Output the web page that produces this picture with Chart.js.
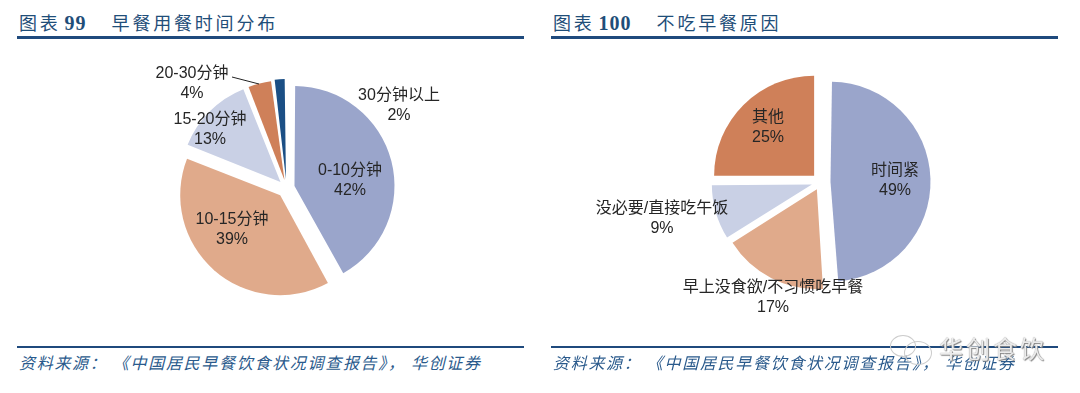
<!DOCTYPE html>
<html>
    <head>
        <meta charset="utf-8">
        <title>早餐用餐时间分布 / 不吃早餐原因</title>
        <script src="https://cdn.jsdelivr.net/npm/chart.js@4/dist/chart.umd.min.js"></script>
        <style>
            html, body { margin: 0; padding: 0; background: #fff; width: 1080px; height: 393px; overflow: hidden; }
            canvas { position: absolute; }
            .title { position: absolute; top: 9px; color: #1f4e79; font: 18px "Noto Sans CJK SC"; letter-spacing: 2.8px; white-space: pre; line-height: 26px; }
            .title b { font: bold 20px "Liberation Serif"; letter-spacing: 1px; margin: 0 25px 0 4px; }
            .rule { position: absolute; background: #1f4a7d; }
            .source { position: absolute; top: 351px; color: #2a5a8c; font: italic 16px "Noto Sans CJK SC"; letter-spacing: 1.7px; white-space: pre; line-height: 22px; }
            .mark { position: absolute; left: 939px; top: 333px; color: rgba(255,255,255,.85); font: 24px "Noto Sans CJK SC"; letter-spacing: 3px; line-height: 30px; text-shadow: 0 0 1px #777, 1px 1px 1px #888; }
            .bubble { position: absolute; border: 1px solid #ccc; border-radius: 50%; }
        </style>
    </head>
    <body>
        <div class="title" style="left:19px">图表<b>99</b>早餐用餐时间分布</div>
        <div class="rule" style="left:17px;top:36px;width:507px;height:3px"></div>
        <canvas id="timeChart" width="541" height="296" style="left:16px;top:40px"></canvas>
        <div class="rule" style="left:17px;top:346px;width:507px;height:2px"></div>
        <div class="source" style="left:19px">资料来源： 《中国居民早餐饮食状况调查报告》， 华创证券</div>

        <div class="title" style="left:553px">图表<b>100</b>不吃早餐原因</div>
        <div class="rule" style="left:551px;top:36px;width:507px;height:3px"></div>
        <canvas id="reasonChart" width="519" height="284" style="left:561px;top:40px"></canvas>
        <div class="rule" style="left:551px;top:346px;width:507px;height:2px"></div>
        <div class="source" style="left:553px">资料来源： 《中国居民早餐饮食状况调查报告》， 华创证券</div>

        <div class="bubble" style="left:890px;top:335px;width:24px;height:20px"></div>
        <div class="bubble" style="left:904px;top:341px;width:26px;height:22px"></div>
        <div class="mark">华创食饮</div>

        <script>
            const timeLabels = ['0-10分钟', '10-15分钟', '15-20分钟', '20-30分钟', '30分钟以上'];
            const timeValues = [42, 39, 13, 4, 2];
            const timeColors = ['#9aa5cb', '#e0aa8b', '#c9d0e5', '#cf8059', '#1b4f85'];

            const reasonLabels = ['时间紧', '早上没食欲/不习惯吃早餐', '没必要/直接吃午饭', '其他'];
            const reasonValues = [49, 17, 9, 25];
            const reasonColors = ['#9aa5cb', '#e0aa8b', '#c9d0e5', '#cf8059'];

            const pieRadius = 100;

            // Chart.js grows an offset slice by offset/4 * (1 - sin(angle)), take that back off
            // so all the slices come out the same size
            const evenRadius = {
                id: 'evenRadius',
                afterDatasetsUpdate(chart) {
                    chart.getDatasetMeta(0).data.forEach(arc => {
                        const fix = 1 - Math.sin(Math.min(Math.PI, arc.circumference));
                        arc.outerRadius = pieRadius - arc.options.offset / 4 * fix;
                    });
                }
            };

            // draws the two line labels, placed relative to the pie centre
            const pieLabels = {
                id: 'pieLabels',
                afterDatasetsDraw(chart, args, opts) {
                    const ctx = chart.ctx;
                    const arc = chart.getDatasetMeta(0).data[0];
                    const data = chart.data.datasets[0].data;
                    ctx.save();
                    if (opts.leader) {
                        ctx.strokeStyle = '#222';
                        ctx.lineWidth = 1;
                        ctx.beginPath();
                        ctx.moveTo(arc.x + opts.leader[0], arc.y + opts.leader[1]);
                        ctx.lineTo(arc.x + opts.leader[2], arc.y + opts.leader[3]);
                        ctx.stroke();
                    }
                    ctx.font = '16px "Liberation Sans", "Noto Sans CJK SC"';
                    ctx.fillStyle = '#262626';
                    ctx.textAlign = 'center';
                    ctx.textBaseline = 'middle';
                    chart.data.labels.forEach((label, i) => {
                        const x = arc.x + opts.places[i][0];
                        const y = arc.y + opts.places[i][1] + 1;
                        ctx.fillText(label, x, y - 10);
                        ctx.fillText(data[i] + '%', x, y + 10);
                    });
                    ctx.restore();
                }
            };

            function makePie(id, labels, values, colors, offsets, labelOpts) {
                return new Chart(document.getElementById(id), {
                    type: 'pie',
                    data: {
                        labels: labels,
                        datasets: [{
                            data: values,
                            backgroundColor: colors,
                            borderWidth: 0,
                            offset: offsets
                        }]
                    },
                    options: {
                        responsive: false,
                        animation: false,
                        radius: pieRadius,
                        plugins: {
                            legend: { display: false },
                            tooltip: { enabled: false },
                            pieLabels: labelOpts
                        }
                    },
                    plugins: [evenRadius, pieLabels]
                });
            }

            // Chart.js moves a slice by a quarter of its offset
            makePie('timeChart', timeLabels, timeValues, timeColors, [33, 38, 34, 32, 36], {
                places: [[63.5, -8], [-54.5, 41], [-76.5, -59], [-94.5, -105.5], [112.5, -83.5]],
                leader: [-54.5, -111, -27.5, -104]
            });
            makePie('reasonChart', reasonLabels, reasonValues, reasonColors, [40, 32, 36, 36], {
                places: [[74.5, -2], [-47.5, 114.5], [-158.5, 36], [-52.5, -55]]
            });
        </script>
    </body>
</html>
